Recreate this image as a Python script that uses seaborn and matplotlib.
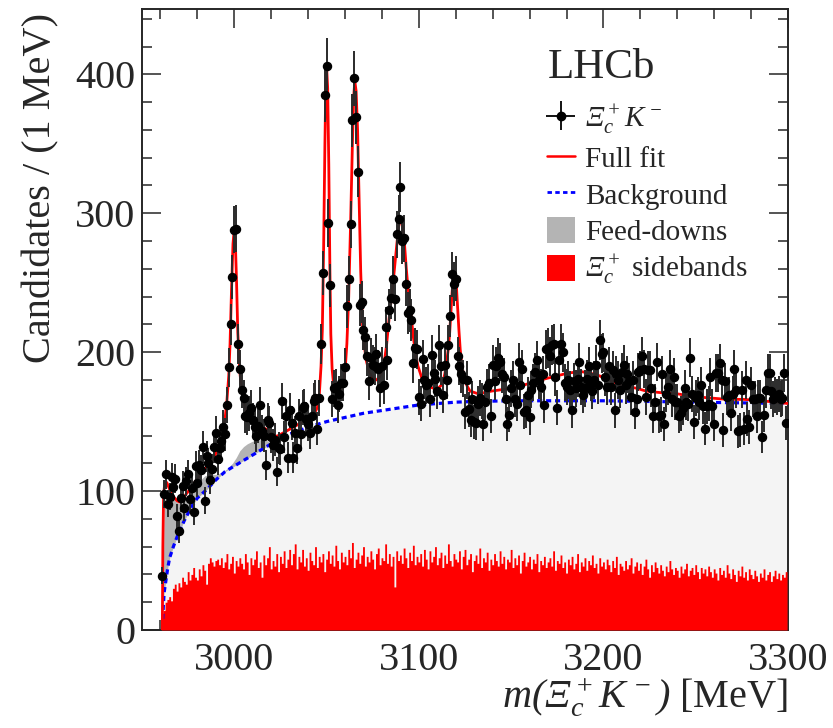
import numpy as np
import pandas as pd
import matplotlib
matplotlib.use('Agg')
import matplotlib.pyplot as plt
import seaborn as sns
from matplotlib.ticker import MultipleLocator
from matplotlib.patches import Patch
from matplotlib.lines import Line2D

# --- data ---------------------------------------------------------------
first_bin = 2961  # MeV, 1 MeV bins

# Xi_c+ K- candidates per bin (rows of 10 bins, starting MeV in comment)
candidates = [
    39, 98, 112, 91, 96, 110, 103, 109, 82, 71,          # 2961
    95, 104, 88, 107, 112, 94, 102, 85, 118, 106,        # 2971
    119, 115, 132, 93, 125, 120, 108, 116, 132, 142,     # 2981
    123, 131, 136, 146, 141, 162, 189, 220, 254, 288,    # 2991
    289, 206, 188, 173, 167, 154, 153, 156, 160, 151,    # 3001
    146, 140, 147, 162, 143, 140, 119, 151, 149, 139,    # 3011
    133, 137, 114, 131, 130, 165, 139, 154, 124, 158,    # 3021
    149, 124, 142, 131, 154, 141, 160, 161, 152, 148,    # 3031
    142, 154, 165, 167, 145, 167, 206, 257, 385, 406,    # 3041
    293, 248, 166, 174, 175, 162, 170, 178, 178, 189,    # 3051
    233, 253, 292, 367, 397, 369, 330, 234, 236, 216,    # 3061
    211, 197, 179, 196, 191, 190, 199, 188, 174, 190,    # 3071
    176, 218, 194, 230, 239, 253, 238, 285, 296, 319,    # 3081
    280, 282, 249, 228, 230, 223, 192, 203, 202, 168,    # 3091
    163, 195, 180, 176, 178, 166, 198, 185, 181, 172,    # 3101
    205, 190, 169, 191, 180, 205, 226, 256, 249, 253,    # 3111
    197, 190, 184, 181, 157, 180, 159, 151, 166, 150,    # 3121
    149, 163, 167, 165, 148, 164, 175, 178, 154, 191,    # 3131
    179, 190, 196, 193, 184, 182, 166, 148, 155, 174,    # 3141
    180, 166, 163, 193, 176, 188, 157, 158, 169, 153,    # 3151
    173, 178, 186, 194, 180, 175, 184, 162, 202, 203,    # 3161
    197, 205, 206, 182, 160, 194, 206, 200, 178, 175,    # 3171
    180, 173, 158, 179, 174, 181, 193, 175, 169, 174,    # 3181
    181, 190, 178, 172, 180, 191, 176, 209, 199, 200,    # 3191
    182, 175, 190, 175, 187, 158, 184, 180, 173, 186,    # 3201
    191, 176, 184, 179, 168, 180, 157, 166, 186, 187,    # 3211
    197, 188, 168, 187, 187, 174, 154, 164, 193, 154,    # 3221
    155, 184, 148, 170, 175, 188, 166, 182, 164, 164,    # 3231
    154, 156, 160, 174, 164, 163, 196, 170, 150, 167,    # 3241
    169, 164, 176, 161, 145, 161, 163, 182, 161, 148,    # 3251
    185, 185, 192, 180, 144, 179, 168, 169, 156, 170,    # 3261
    188, 173, 143, 144, 173, 145, 180, 152, 146, 176,    # 3271
    166, 166, 154, 167, 167, 139, 155, 173, 185, 185,    # 3281
    172, 166, 169, 168, 170, 166, 167, 185, 149,         # 3291
]

# Xi_c+ mass sidebands, same binning
sidebands = [
    12, 14, 20, 22, 24, 21, 30, 33, 28, 34,   # 2961
    31, 38, 35, 33, 42, 36, 40, 45, 38, 36,   # 2971
    44, 39, 47, 43, 33, 48, 52, 49, 46, 50,   # 2981
    51, 47, 52, 45, 49, 55, 44, 48, 53, 41,   # 2991
    50, 46, 52, 48, 44, 55, 49, 40, 52, 47,   # 3001
    51, 57, 45, 49, 38, 54, 47, 52, 60, 44,   # 3011
    50, 46, 55, 42, 53, 48, 57, 45, 51, 58,   # 3021
    47, 55, 62, 44, 53, 49, 58, 46, 52, 43,   # 3031
    56, 50, 47, 60, 45, 53, 49, 55, 42, 51,   # 3041
    57, 48, 54, 46, 61, 50, 44, 56, 49, 53,   # 3051
    47, 58, 52, 63, 45, 51, 56, 48, 54, 60,   # 3061
    46, 53, 49, 57, 51, 44, 55, 59, 47, 52,   # 3071
    50, 62, 48, 55, 46, 53, 31, 57, 50, 54,   # 3081
    48, 59, 52, 45, 56, 50, 61, 47, 53, 49,   # 3091
    55, 46, 58, 51, 44, 57, 49, 53, 60, 47,   # 3101
    52, 56, 45, 54, 48, 62, 50, 46, 55, 51,   # 3111
    49, 57, 44, 53, 58, 47, 51, 55, 42, 50,   # 3121
    54, 48, 59, 45, 52, 49, 56, 43, 51, 47,   # 3131
    55, 50, 46, 57, 48, 53, 44, 51, 49, 58,   # 3141
    45, 52, 47, 54, 41, 50, 56, 46, 49, 53,   # 3151
    44, 51, 48, 55, 42, 50, 47, 53, 45, 49,   # 3161
    52, 46, 57, 43, 50, 48, 54, 45, 49, 41,   # 3171
    51, 47, 53, 44, 48, 55, 42, 49, 46, 52,   # 3181
    43, 50, 47, 54, 45, 48, 41, 52, 46, 49,   # 3191
    44, 51, 47, 42, 50, 45, 53, 40, 48, 46,   # 3201
    43, 50, 44, 47, 52, 41, 46, 49, 43, 48,   # 3211
    40, 46, 51, 44, 38, 47, 42, 49, 45, 41,   # 3221
    47, 43, 39, 46, 42, 50, 44, 40, 45, 43,   # 3231
    38, 46, 41, 44, 48, 39, 43, 45, 40, 47,   # 3241
    42, 37, 45, 41, 44, 39, 46, 42, 38, 44,   # 3251
    41, 36, 45, 40, 43, 38, 47, 41, 37, 44,   # 3261
    40, 35, 43, 39, 46, 38, 42, 36, 44, 40,   # 3271
    37, 43, 39, 35, 41, 38, 44, 36, 40, 42,   # 3281
    35, 39, 43, 37, 41, 36, 40, 38, 42,       # 3291
]

# full fit curve
fit_mass = [2961.0, 2961.3, 2961.7, 2962.5, 2963.5, 2965, 2967, 2969, 2970.5, 2972,
            2974, 2977, 2980, 2983, 2986, 2989, 2991, 2993, 2994, 2995,
            2996, 2997, 2997.7, 2998.5, 2999.3, 2999.9, 3000.5, 3001.2, 3001.9, 3003,
            3004, 3005, 3006, 3008, 3010.5, 3014, 3018, 3021.3, 3024, 3028,
            3032, 3036, 3040, 3043, 3045, 3046, 3047, 3047.7, 3048.4, 3049.1,
            3049.6, 3050.1, 3050.6, 3051.2, 3051.8, 3052.3, 3053, 3054, 3055.5, 3057,
            3058.5, 3059.5, 3060.3, 3061, 3062, 3063, 3064, 3064.7, 3065.3, 3066,
            3066.8, 3067.6, 3068.5, 3069.5, 3070.4, 3071.5, 3073, 3075, 3077, 3078.6,
            3080, 3081.3, 3082.5, 3084, 3085.9, 3087.5, 3088.6, 3089.5, 3090.3, 3091.2,
            3092.2, 3093.2, 3094, 3095, 3095.9, 3097, 3097.7, 3098.6, 3099.5, 3101,
            3102.2, 3104, 3105.8, 3108, 3110.4, 3112, 3113.1, 3114, 3114.9, 3116,
            3116.7, 3117.4, 3118, 3118.6, 3119.1, 3119.7, 3120.4, 3121, 3121.7, 3122.4,
            3123.1, 3124, 3124.9, 3126, 3127.7, 3130, 3132.2, 3136, 3139.5, 3145,
            3154, 3163, 3172, 3181, 3188, 3196, 3203, 3210, 3218, 3223,
            3230, 3240, 3249, 3258, 3267, 3276, 3285, 3294, 3300]
fit_value = [0, 60, 98, 107, 106, 101, 96, 93, 92, 94,
             98, 103, 109, 114, 119, 124, 130, 139, 145, 152,
             165, 183, 206, 245, 278, 287, 282, 252, 214, 186,
             172, 165, 159, 152, 149, 147, 144, 139, 140, 143,
             146, 149, 152, 155, 160, 168, 190, 216, 275, 350,
             392, 403, 390, 335, 260, 213, 188, 174, 170, 171,
             175, 181, 192, 206, 240, 292, 350, 384, 395, 388,
             360, 312, 258, 220, 205, 194, 186, 181, 180, 182,
             186, 193, 205, 226, 248, 270, 285, 295, 296, 290,
             278, 260, 248, 236, 225, 211, 204, 196, 190, 184,
             179, 176, 175, 174, 174, 176, 179, 184, 191, 203,
             214, 230, 243, 253, 256, 254, 246, 232, 216, 202,
             193, 185, 180, 176, 172, 171, 170, 171, 172, 173,
             175, 179, 182, 185, 186, 184, 180, 176, 174, 172,
             171, 170, 168, 167, 166, 166, 165, 164, 163]

# combinatorial background
bkg_mass = [2961.2, 2961.6, 2962, 2963, 2964, 2965, 2966, 2967, 2969, 2971,
            2973, 2975, 2977, 2980, 2985, 2990, 2995, 3000, 3005, 3010,
            3015, 3020, 3030, 3040, 3050, 3060, 3070, 3080, 3090, 3100,
            3110, 3120, 3130, 3150, 3200, 3250, 3300]
bkg_value = [8, 18, 27, 36, 45, 52, 56, 60, 67, 73,
             79, 84, 89, 95, 101, 108, 114, 118, 122, 126,
             130, 134, 141, 146, 150, 153, 156, 158, 160, 162,
             163, 164, 164.5, 165, 165, 164, 163]

# background + feed-down contributions (upper edge of grey band)
feed_mass = [2961.2, 2961.6, 2962, 2963, 2964, 2965, 2966, 2968, 2970, 2972,
             2975, 2978, 2981, 2984, 2987, 2990, 2993, 2996, 2999, 3001,
             3003, 3005, 3007, 3010, 3014, 3017, 3019, 3021]
feed_value = [8, 50, 90, 100, 100, 98, 96, 93, 91, 92,
              97, 102, 107, 111, 112, 112, 113, 116, 120, 124,
              129, 132, 134, 136, 137, 137, 135, 134]

# --- plotting -------------------------------------------------------------
sns.set_style('ticks')
plt.rcParams['font.family'] = ['Liberation Serif', 'DejaVu Serif']
plt.rcParams['mathtext.fontset'] = 'custom'
plt.rcParams['mathtext.rm'] = 'Liberation Serif:italic'
plt.rcParams['mathtext.it'] = 'Liberation Serif:italic'
plt.rcParams['mathtext.bf'] = 'Liberation Serif:bold'

mass = np.arange(first_bin, first_bin + len(candidates))
counts = np.array(candidates, dtype=float)
sb_df = pd.DataFrame({'mass': np.arange(first_bin, first_bin + len(sidebands)),
                      'n': sidebands})

fig = plt.figure(figsize=(8.33, 7.28), dpi=100)
ax = fig.add_axes([142 / 833, 1 - 630 / 728, 646 / 833, 621 / 728])

ax.fill_between(feed_mass, 0, feed_value, color='#b4b4b4', lw=0, zorder=1)
ax.fill_between(bkg_mass, 0, bkg_value, color='#f4f4f4', lw=0, zorder=2)
sns.histplot(data=sb_df, x='mass', weights='n', binwidth=1,
             binrange=(first_bin - 0.5, first_bin + len(sidebands) - 0.5),
             element='step', fill=True, color='#ff0000', alpha=1.0,
             linewidth=0, ax=ax, zorder=3)
sns.lineplot(x=bkg_mass, y=bkg_value, color='#0000ff', lw=2.3,
             linestyle=(0, (1.6, 1.2)), ax=ax, zorder=4)
sns.lineplot(x=fit_mass, y=fit_value, color='#ff0000', lw=2.0, ax=ax, zorder=5)
ax.errorbar(mass, counts, yerr=np.sqrt(counts), fmt='o', ms=5.8, color='black',
            ecolor='#2a2a2a', elinewidth=1.4, capsize=0, zorder=6)

ax.set_xlim(2950, 3300)
ax.set_ylim(0, 447)
ax.xaxis.set_major_locator(MultipleLocator(100))
ax.xaxis.set_minor_locator(MultipleLocator(20))
ax.yaxis.set_major_locator(MultipleLocator(100))
ax.yaxis.set_minor_locator(MultipleLocator(20))
ax.tick_params(which='both', direction='in', top=True, right=True, width=1.1,
               labelsize=29)
ax.tick_params(which='major', length=14)
ax.tick_params(which='minor', length=7)
ax.tick_params(axis='x', pad=9)
ax.tick_params(axis='y', pad=5)
for s in ax.spines.values():
    s.set_linewidth(1.4)

ax.set_xlabel(r'$m(\Xi_c^+K^-)$ [MeV]', fontsize=29, ha='right')
ax.xaxis.set_label_coords(1.0, -0.1256)
ax.xaxis.label.set_va('baseline')
ax.set_ylabel('Candidates / (1 MeV)', fontsize=29, ha='right', va='baseline')
ax.yaxis.set_label_coords(-0.1424, 0.9936)

ax.text(548 / 833, 1 - 78 / 728, 'LHCb', transform=fig.transFigure,
        fontsize=31, va='baseline', ha='left')

# legend
h_data = ax.errorbar([np.nan], [np.nan], xerr=[1.0], yerr=[1.0], fmt='o', ms=6,
                     color='black', elinewidth=1.3)
h_fit = Line2D([], [], color='#ff0000', lw=1.8)
h_bkg = Line2D([], [], color='#0000ff', lw=2.0, linestyle=(0, (1.6, 1.2)))
h_feed = Patch(facecolor='#b4b4b4', edgecolor='none')
h_side = Patch(facecolor='#ff0000', edgecolor='none')
ax.legend([h_data, h_fit, h_bkg, h_feed, h_side],
          [r'$\Xi_c^+K^-$', 'Full fit', 'Background', 'Feed-downs',
           r'$\Xi_c^+$ sidebands'],
          loc='upper left', bbox_to_anchor=(547 / 833, 1 - 103 / 728),
          bbox_transform=fig.transFigure, frameon=False, fontsize=21,
          handlelength=0.95, handleheight=1.0, handletextpad=0.35,
          labelspacing=0.25, borderpad=0, borderaxespad=0)

fig.savefig('out.png', dpi=100)
